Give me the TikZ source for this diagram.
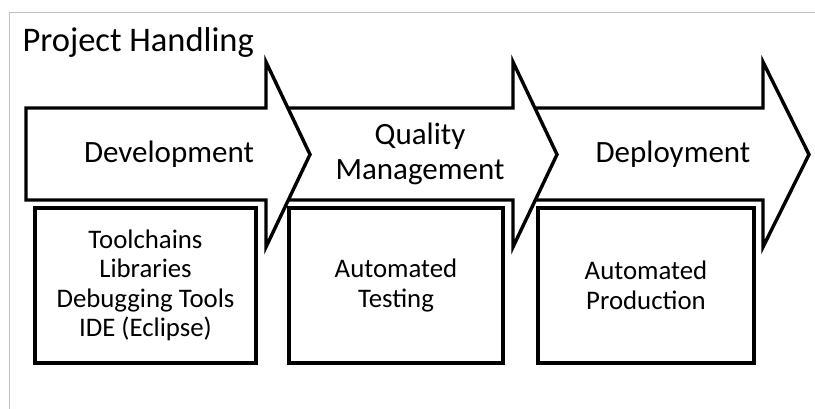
\documentclass[tikz,border=0pt]{standalone}
\usepackage{fontspec}
\setmainfont{Carlito}
\usepackage{tikz}

\begin{document}
\begin{tikzpicture}[x=1pt,y=-1pt,
    phase/.style={draw=black,fill=white,line width=3.4pt,line join=miter},
    task/.style={rectangle,draw=black,fill=white,line width=3.4pt,align=center,
        inner sep=0pt,minimum height=155pt,font=\fontsize{26.8}{29.5}\selectfont},
    label/.style={align=center,font=\fontsize{31}{35}\selectfont}]
      \useasboundingbox (0,0) rectangle (815,409);
      \draw[black!25,line width=1pt] (9,409) -- (9,13) -- (815,13);
      \node[anchor=base west,font=\fontsize{34.5}{40}\selectfont] (title) at (19,52) {Project Handling};
      % process arrows, last one first so each head lies on top
      \draw[phase] (522,108) -- (763,108) -- (763,62) -- (809,154.5) -- (763,247) -- (763,200) -- (522,200) -- cycle;
      \draw[phase] (276,108) -- (513,108) -- (513,62) -- (557,154.5) -- (513,247) -- (513,200) -- (276,200) -- cycle;
      \draw[phase] (26,108) -- (266,108) -- (266,62) -- (310,154.5) -- (266,247) -- (266,200) -- (26,200) -- cycle;
      \node[label] (dev) at (169,154) {Development};
      \node[label] (qm) at (420,154) {Quality\\Management};
      \node[label] (dep) at (673,154) {Deployment};
      \node[task,minimum width=221pt] (tools) at (145.5,285.5) {Toolchains\\Libraries\\Debugging Tools\\IDE (Eclipse)};
      \node[task,minimum width=214pt] (testing) at (396,285.5) {Automated\\Testing};
      \node[task,minimum width=216pt] (production) at (646,285.5) {Automated\\Production};
    \end{tikzpicture}
\end{document}
